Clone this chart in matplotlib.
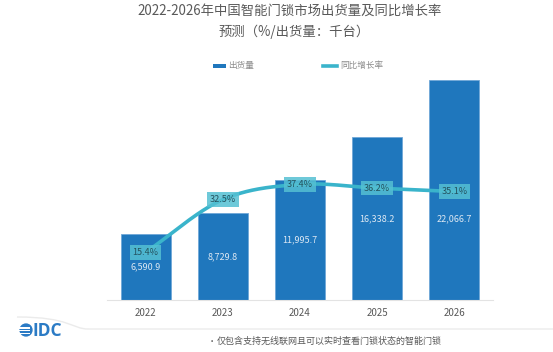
import numpy as np
import matplotlib
matplotlib.use("Agg")
import matplotlib.pyplot as plt
from matplotlib.patches import Rectangle, Circle
from matplotlib.path import Path
from matplotlib.patches import PathPatch

plt.rcParams['font.family'] = ['Noto Sans CJK SC', 'DejaVu Sans']

years = ['2022', '2023', '2024', '2025', '2026']
shipments = [6590.9, 8729.8, 11995.7, 16338.2, 22066.7]
growth = [15.4, 32.5, 37.4, 36.2, 35.1]
ship_labels = ['6,590.9', '8,729.8', '11,995.7', '16,338.2', '22,066.7']
growth_labels = ['15.4%', '32.5%', '37.4%', '36.2%', '35.1%']

title1 = '2022-2026年中国智能门锁市场出货量及同比增长率'
title2 = '预测（%/出货量：千台）'
legend_bar = '出货量'
legend_line = '同比增长率'
footnote = '仅包含支持无线联网且可以实时查看门锁状态的智能门锁'

W, H = 553, 352
fig = plt.figure(figsize=(W / 100, H / 100), dpi=100)
fig.patch.set_facecolor('white')

def fx(px):
    return px / W

def fy(py):
    return 1 - py / H

BAR_C = '#1F77BD'
LINE_C = '#3AB4CB'
GRAY = '#595959'

ax_left, ax_right, ax_bottom, ax_top = 107, 493, 300, 60.7
ax = fig.add_axes([fx(ax_left), fy(ax_bottom), fx(ax_right - ax_left), (ax_bottom - ax_top) / H])
x = np.arange(len(years))
bars = ax.bar(x, shipments, width=0.65, color=BAR_C, edgecolor='#6FA8D8', linewidth=0.6, zorder=2)
ax.set_xlim(-0.5, len(years) - 0.5)
ax.set_ylim(0, 24000)
for s in ['top', 'right', 'left']:
    ax.spines[s].set_visible(False)
ax.spines['bottom'].set_color('#E3E3E3')
ax.spines['bottom'].set_linewidth(0.8)
ax.set_yticks([])
ax.set_xticks(x)
ax.set_xticklabels(years, fontsize=7, color=GRAY)
ax.tick_params(axis='x', length=0, pad=6)

label_frac = [0.5, 0.5, 0.5, 0.5, 0.37]
for xi, v, lab, fr in zip(x, shipments, ship_labels, label_frac):
    ax.text(xi, v * fr, lab, ha='center', va='center', fontsize=6.5, color='#DDE8F3', zorder=5)

ax2 = ax.twinx()
ax2.set_ylim(0, (ax_bottom - ax_top) / 3.09)
ax2.axis('off')

# smooth curve through the growth points (Catmull-Rom)
pts = np.column_stack([x.astype(float), np.array(growth, dtype=float)])
ext = np.vstack([2 * pts[0] - pts[1], pts, 2 * pts[-1] - pts[-2]])
curve = []
t = np.linspace(0, 1, 40)
for i in range(1, len(ext) - 2):
    p0, p1, p2, p3 = ext[i - 1], ext[i], ext[i + 1], ext[i + 2]
    tt = t[:, None]
    seg = 0.5 * ((2 * p1) + (-p0 + p2) * tt + (2 * p0 - 5 * p1 + 4 * p2 - p3) * tt ** 2
                 + (-p0 + 3 * p1 - 3 * p2 + p3) * tt ** 3)
    curve.append(seg)
curve = np.vstack(curve)
ax2.plot(curve[:, 0], curve[:, 1], color=LINE_C, linewidth=2.6, zorder=3, solid_capstyle='round')
for xi, g, lab in zip(x, growth, growth_labels):
    ax2.text(xi, g, lab, ha='center', va='center', fontsize=6.5, color='#24525E', zorder=6,
             bbox=dict(boxstyle='square,pad=0.3', facecolor='#55C0D3', edgecolor='none', alpha=0.85))

# titles
fig.text(fx(290), fy(11), title1, ha='center', va='center', fontsize=9.6, color=GRAY)
fig.text(fx(294), fy(32), title2, ha='center', va='center', fontsize=9.6, color=GRAY)

# legend
fig.patches.append(Rectangle((fx(213), fy(67.5)), fx(13), 4 / H, transform=fig.transFigure,
                             facecolor=BAR_C, edgecolor='none'))
fig.text(fx(228), fy(65.5), legend_bar, ha='left', va='center', fontsize=6.2, color='#8A8A8A')
fig.lines.append(plt.Line2D([fx(323), fx(337)], [fy(65.5), fy(65.5)], transform=fig.transFigure,
                            color=LINE_C, linewidth=2.6))
fig.text(fx(340), fy(65.5), legend_line, ha='left', va='center', fontsize=6.2, color='#8A8A8A')

# separator curve
verts = [(fx(17), fy(317)), (fx(70), fy(317)), (fx(72), fy(329)), (fx(88), fy(329)), (fx(553), fy(329))]
codes = [Path.MOVETO, Path.CURVE4, Path.CURVE4, Path.CURVE4, Path.LINETO]
fig.patches.append(PathPatch(Path(verts, codes), transform=fig.transFigure, facecolor='none',
                             edgecolor='#EBEBEB', linewidth=1.0))

# IDC logo
lax = fig.add_axes([fx(19), fy(337), fx(14), 14 / H])
lax.set_xlim(-1, 1)
lax.set_ylim(-1, 1)
lax.set_aspect('equal')
lax.axis('off')
circ = Circle((0, 0), 0.95, facecolor='#2B7BC5', edgecolor='none')
lax.add_patch(circ)
for yy in [-0.5, -0.1, 0.3]:
    lax.add_patch(Rectangle((-1, yy - 0.1), 1.6, 0.2, facecolor='white', edgecolor='none'))
fig.text(fx(33), fy(330.5), 'IDC', ha='left', va='center', fontsize=12.5, color='#2B7BC5',
         fontweight='bold', family=['Open Sans', 'DejaVu Sans'])

# footnote
fig.text(fx(208), fy(341), '•', ha='left', va='center', fontsize=6, color=GRAY)
fig.text(fx(217), fy(341), footnote, ha='left', va='center', fontsize=6.5, color=GRAY)

fig.savefig('out.png', dpi=100, facecolor='white')
